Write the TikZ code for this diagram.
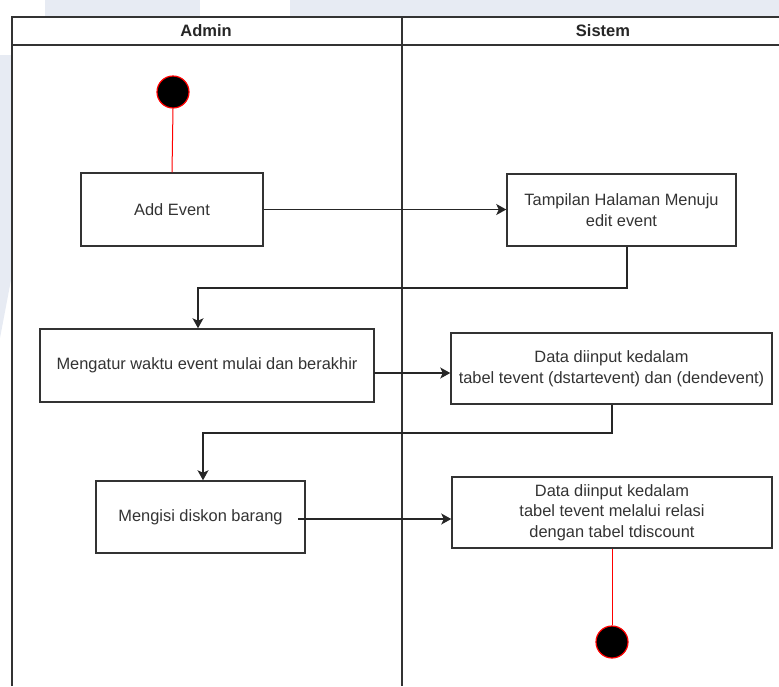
\documentclass[tikz,border=0pt]{standalone}
\usepackage{fontspec}
\setmainfont{Liberation Sans}
\usetikzlibrary{arrows.meta}
\definecolor{wm}{HTML}{E7EBF3}
\definecolor{ln}{HTML}{333333}
\definecolor{tx}{HTML}{333333}
\tikzset{
  act/.style={draw=ln, line width=1.5pt, fill=white, text=tx, align=center,
    inner sep=0pt, font=\fontsize{16.4}{20.5}\selectfont},
  flow/.style={draw=black!85, line width=1.3pt,
    -{Stealth[length=10pt,width=11pt,inset=2.5pt]}},
  redline/.style={draw=red, line width=1pt},
  dot/.style={circle, fill=black, draw=red, line width=1.2pt, minimum size=32pt, inner sep=0pt},
  lane/.style={draw=ln, line width=1.6pt},
  head/.style={font=\fontsize{16.5}{20}\selectfont\bfseries, text=black!85}
}
\begin{document}
\begin{tikzpicture}[x=1pt,y=-1pt]
\useasboundingbox (0,0) rectangle (779,686);
% faint watermark shapes
\fill[wm] (45,0) rectangle (200,16);
\fill[wm] (290,0) rectangle (779,16);
\fill[wm] (0,55) -- (11,55) -- (11,280) -- (0,338) -- cycle;
% swimlanes
\draw[lane] (12,686) -- (12,17) -- (779,17);
\draw[lane] (12,45) -- (779,45);
\draw[lane] (402,17) -- (402,686);
\node[head] (hadmin) at (206,31) {Admin};
\node[head] (hsistem) at (603,31) {Sistem};
% nodes
\node[dot] (start) at (173,92) {};
\node[act, minimum width=182pt, minimum height=73pt] (addev) at (172,209.5) {Add Event};
\node[act, minimum width=229pt, minimum height=72pt] (tamp) at (621.5,210) {Tampilan Halaman Menuju\\edit event};
\node[act, minimum width=334pt, minimum height=73pt] (atur) at (207,365.5) {Mengatur waktu event mulai dan berakhir};
\node[act, minimum width=321pt, minimum height=71pt] (data1) at (611.5,368.5) {Data diinput kedalam\\tabel tevent (dstartevent) dan (dendevent)};
\node[act, minimum width=209pt, minimum height=72pt] (isi) at (200.5,517) {Mengisi diskon barang};
\node[act, minimum width=320pt, minimum height=71pt] (data2) at (612,512.5) {Data diinput kedalam\\tabel tevent melalui relasi\\dengan tabel tdiscount};
\node[dot] (end) at (612,642) {};
% helper coordinates
\coordinate (b1) at (627,288);
\coordinate (b2) at (198,288);
\coordinate (c1) at (612,433);
\coordinate (c2) at (203,433);
\coordinate (r1) at (374,373);
\coordinate (s1) at (298,519);
% connectors
\draw[redline] (start.south) -- (addev.north);
\draw[flow] (addev.east) -- (addev.east -| tamp.west);
\draw[flow] (b1 |- tamp.south) -- (b1) -- (b2) -- (b2 |- atur.north);
\draw[flow] (r1) -- (r1 -| data1.west);
\draw[flow] (c1 |- data1.south) -- (c1) -- (c2) -- (c2 |- isi.north);
\draw[flow] (s1) -- (s1 -| data2.west);
\draw[redline] (data2.south) -- (end.north);
\end{tikzpicture}
\end{document}
